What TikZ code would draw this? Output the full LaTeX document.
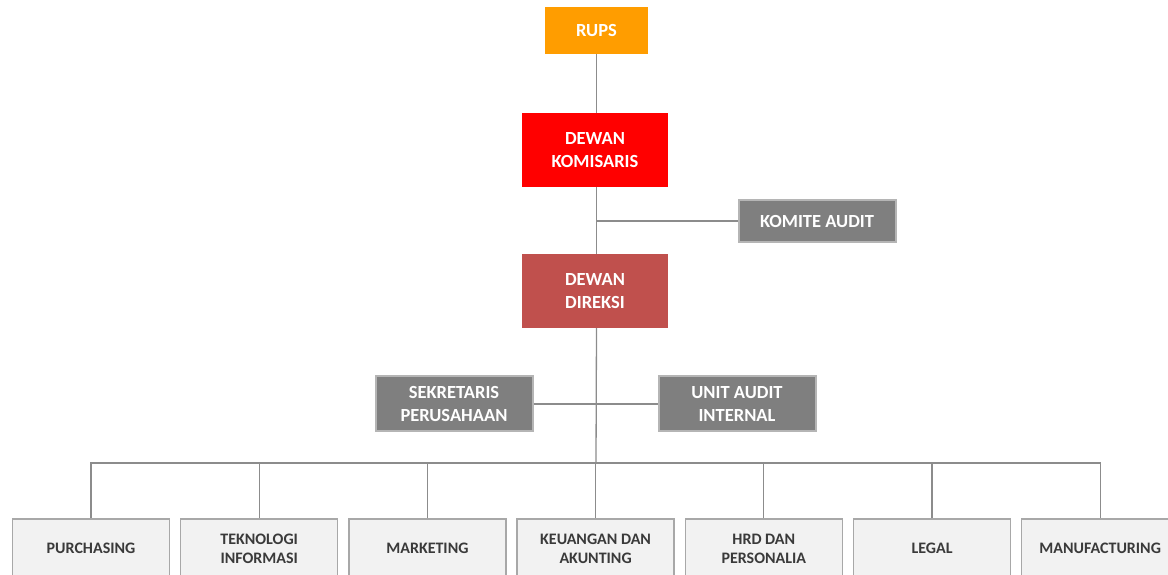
\documentclass[tikz,border=0pt]{standalone}
\usepackage{fontspec}
\setmainfont{Carlito}
\definecolor{rupsc}{HTML}{FF9D00}
\definecolor{komc}{HTML}{FF0000}
\definecolor{dirc}{HTML}{C0504D}
\definecolor{grayc}{HTML}{7F7F7F}
\definecolor{grayb}{HTML}{B5B5B5}
\definecolor{lightc}{HTML}{F2F2F2}
\definecolor{lightb}{HTML}{A8A8A8}
\definecolor{linec}{HTML}{8C8C8C}
\definecolor{textd}{HTML}{3A3A3A}
\tikzset{
  x=1pt,y=-1pt,
  topbox/.style={draw=none, text=white, font=\bfseries\fontsize{18.5}{23}\selectfont, align=center, inner sep=0pt, minimum width=146pt, minimum height=74pt},
  graybox/.style={fill=grayc, draw=grayb, line width=2pt, text=white, font=\bfseries\fontsize{18.5}{23}\selectfont, align=center, inner sep=0pt, minimum width=157pt},
  unitbox/.style={fill=lightc, draw=lightb, line width=1.5pt, text=textd, font=\bfseries\fontsize{16}{19}\selectfont, align=center, inner sep=0pt, minimum width=157pt, minimum height=60pt},
  conn/.style={draw=linec, line width=1.3pt}
}
\begin{document}
\begin{tikzpicture}
\useasboundingbox (0,0) rectangle (1168,574);
\clip (0,0) rectangle (1168,574);
\node[topbox, fill=rupsc, minimum width=103pt, minimum height=47pt] (rups) at (596.5,30.5) {RUPS};
\node[topbox, fill=komc] (kom) at (595,150) {DEWAN\\KOMISARIS};
\node[topbox, fill=dirc] (dir) at (595,291) {DEWAN\\DIREKSI};
\node[graybox, minimum height=42pt] (audit) at (817,221) {KOMITE AUDIT};
\node[graybox, minimum height=55pt] (sek) at (454,403.5) {SEKRETARIS\\PERUSAHAAN};
\node[graybox, minimum height=55pt] (uai) at (737,403.5) {UNIT AUDIT\\INTERNAL};
\coordinate (ja) at (596,221);
\coordinate (js) at (596,404);
\coordinate (bus) at (596,463);
\foreach \n/\t [count=\i from 0] in {pur/PURCHASING, tek/{TEKNOLOGI\\INFORMASI}, mar/MARKETING, keu/{KEUANGAN DAN\\AKUNTING}, hrd/{HRD DAN\\PERSONALIA}, leg/LEGAL, man/MANUFACTURING}{
  \node[unitbox, anchor=north] (\n) at ({91+168.2*\i},518) {\t};
}
\draw[conn] (rups.south) -- (rups.south |- kom.north);
\draw[conn] (kom.south -| rups.south) -- (dir.north -| rups.south);
\draw[conn] (ja) -- (audit.west);
\draw[conn] (dir.south -| rups.south) -- (bus);
\draw[conn] (sek.east |- js) -- (uai.west |- js);
\draw[conn] (pur.north) -- (pur.north |- bus) -- (man.north |- bus) -- (man.north);
\foreach \n in {tek,mar,keu,hrd,leg}{
  \draw[conn] (\n.north) -- (\n.north |- bus);
}
\end{tikzpicture}
\end{document}
